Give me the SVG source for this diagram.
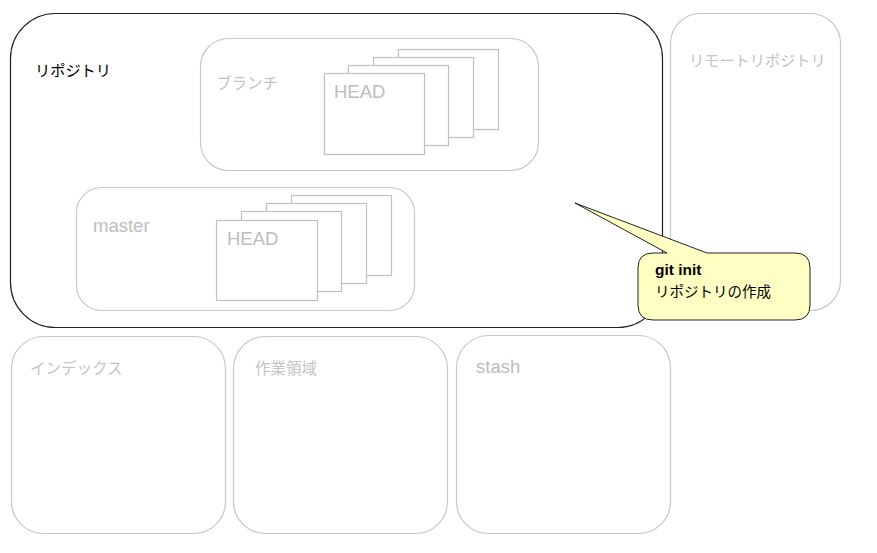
<svg xmlns="http://www.w3.org/2000/svg" width="877" height="553" viewBox="0 0 877 553">
<style>
.box{fill:#fff;stroke:#c8c8c8;stroke-width:1.2}
.main{fill:#fff;stroke:#222;stroke-width:1.2}
.card{fill:#fff;stroke:#c0c0c0;stroke-width:1.2}
.lbl{font-family:"Noto Sans CJK JP","Noto Sans",sans-serif;font-size:15.5px;fill:#c4c4c4}
.lat{font-family:"Liberation Sans",Arial,sans-serif;font-size:18.5px;fill:#bdbdbd}
.blk{font-family:"Noto Sans CJK JP",sans-serif;font-size:15.2px;fill:#000}
</style>
<rect width="877" height="553" fill="#fff"/>
<g id="remote">
<rect class="box" x="670.5" y="13.5" width="170" height="297" rx="30"/>
<text class="lbl" x="689" y="66" style="font-size:15.2px">リモートリポジトリ</text>
</g>
<g id="repository">
<rect class="main" x="10.5" y="13.5" width="652" height="314" rx="45"/>
<text class="blk" x="35" y="76">リポジトリ</text>
</g>
<g id="branch">
<rect class="box" x="200.5" y="38.5" width="338" height="132" rx="28"/>
<text class="lbl" x="216" y="89">ブランチ</text>
<rect class="card" x="398.5" y="49.5" width="100" height="80"/>
<rect class="card" x="373.5" y="57.5" width="100" height="80"/>
<rect class="card" x="348.5" y="65.5" width="100" height="80"/>
<rect class="card" x="324.5" y="73.5" width="100" height="81"/>
<text class="lat" x="334" y="98">HEAD</text>
</g>
<g id="master">
<rect class="box" x="76.5" y="187.5" width="338" height="123" rx="25"/>
<text class="lat" x="93" y="232">master</text>
<rect class="card" x="291.5" y="195.5" width="100" height="80"/>
<rect class="card" x="266.5" y="203.5" width="100" height="80"/>
<rect class="card" x="241.5" y="211.5" width="100" height="80"/>
<rect class="card" x="216.5" y="220.5" width="101" height="80"/>
<text class="lat" x="227" y="245">HEAD</text>
</g>
<g id="index">
<rect class="box" x="11.5" y="336.5" width="214" height="197" rx="32"/>
<text class="lbl" x="30" y="374">インデックス</text>
</g>
<g id="worktree">
<rect class="box" x="233.5" y="336.5" width="214" height="197" rx="32"/>
<text class="lbl" x="255" y="374">作業領域</text>
</g>
<g id="stash">
<rect class="box" x="456.5" y="335.5" width="214" height="198" rx="32"/>
<text class="lat" x="476" y="373">stash</text>
</g>
<g id="connectors"></g>
<g id="callout">
<path d="M 653 253 L 667 253 L 575 203 L 707 253 L 795 253 Q 810 253 810 268 L 810 305 Q 810 320 795 320 L 653 320 Q 638 320 638 305 L 638 268 Q 638 253 653 253 Z" fill="#ffffc4" stroke="#222" stroke-width="1" stroke-linejoin="round"/>
<text x="655" y="275" font-family="Liberation Sans,Arial,sans-serif" font-size="15.5" font-weight="bold" fill="#000">git init</text>
<text x="655" y="297" font-family="Noto Sans CJK JP,sans-serif" font-size="14.5" fill="#000">リポジトリの作成</text>
</g>
</svg>
